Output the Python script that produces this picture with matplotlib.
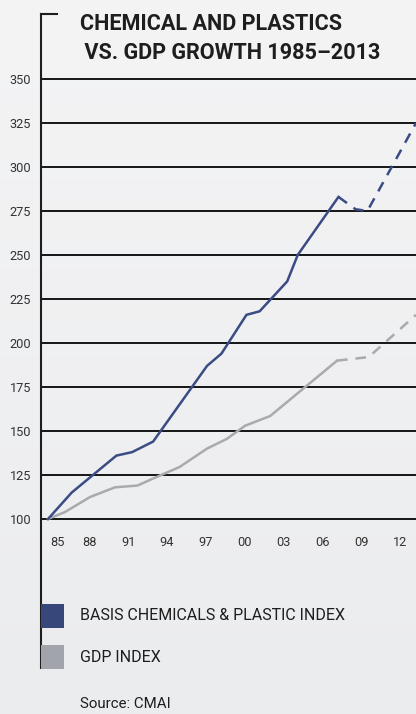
import numpy as np
import matplotlib
matplotlib.use("Agg")
import matplotlib.pyplot as plt
from matplotlib.patches import Rectangle
from matplotlib.lines import Line2D

# Basic chemicals & plastics index (1985 = 100): history and projection
chem_years = [1985, 1986.8, 1990.2, 1991.4, 1993.0, 1997.1, 1998.2, 2000.1, 2001.1, 2003.2, 2004.0, 2007.1]
chem_values = [100, 115, 136, 138, 144, 187, 194, 216, 218, 235, 250, 283]
chem_proj_years = [2007.1, 2008.4, 2009.3, 2013.0]
chem_proj_values = [283, 276, 275, 325]

# GDP index (1985 = 100): history and projection
gdp_years = [1985, 1986.3, 1988.2, 1990.1, 1991.8, 1993.3, 1995.0, 1997.1, 1998.6, 2000.0, 2001.9, 2003.6, 2007.0]
gdp_values = [100, 104, 112.5, 118, 119, 124, 129.5, 140, 145.5, 153, 158.5, 169, 190]
gdp_proj_years = [2007.0, 2009.4, 2013.0]
gdp_proj_values = [190, 192, 216]

y_ticks = [100, 125, 150, 175, 200, 225, 250, 275, 300, 325, 350]
x_tick_years = [1985, 1988, 1991, 1994, 1997, 2000, 2003, 2006, 2009, 2012]
x_tick_labels = ["85", "88", "91", "94", "97", "00", "03", "06", "09", "12"]

series_names = ["BASIS CHEMICALS & PLASTIC INDEX", "GDP INDEX"]
title_lines = ["CHEMICAL AND PLASTICS", " VS. GDP GROWTH 1985\u20132013"]
source_text = "Source: CMAI"

BLUE = "#3b4c85"
GRAY = "#a9aaae"
LEG_BLUE = "#37477a"
LEG_GRAY = "#a1a4ab"
INK = "#1e1e1e"
FONT = ["Roboto", "DejaVu Sans"]

W, H = 416, 714
fig = plt.figure(figsize=(W / 100, H / 100), dpi=100)

# soft vertical background gradient
top_c = np.array([0xf4, 0xf4, 0xf5]) / 255
bot_c = np.array([0xeb, 0xec, 0xee]) / 255
t = np.linspace(0, 1, H)[:, None, None]
grad = top_c * (1 - t) + bot_c * t
grad = np.repeat(grad, W, axis=1)
fig.figimage(grad, 0, 0, zorder=-10, origin="upper")


def fx(px):
    return px / W


def fy(py):
    return 1 - py / H


# plot area: left rule runs from the title bracket down past the legend
ax_left, ax_right, ax_top, ax_bot = 41, 416, 14, 668
ax = fig.add_axes([fx(ax_left), fy(ax_bot), fx(ax_right - ax_left), (ax_bot - ax_top) / H])
ax.patch.set_visible(False)

px_per_year = 13.14
px_per_unit = 44 / 25
ax.set_xlim(1985 - 7 / px_per_year, 2013.0)
ax.set_ylim(100 - (ax_bot - 519) / px_per_unit, 100 + (519 - ax_top) / px_per_unit)

for s in ["top", "right"]:
    ax.spines[s].set_visible(False)
ax.spines["left"].set_linewidth(1.5)
ax.spines["left"].set_color(INK)
ax.spines["bottom"].set_position(("data", 100))
ax.spines["bottom"].set_visible(False)

ax.set_yticks(y_ticks)
ax.set_yticklabels([str(v) for v in y_ticks], fontfamily=FONT, fontsize=9.2, color="#333333")
ax.tick_params(axis="y", length=0, pad=7)
ax.yaxis.grid(True, color="#151515", linewidth=1.4)
ax.set_axisbelow(True)

# year labels sit a little below the 100 line, slightly tighter than the year spacing
ax.set_xticks([])
for i, (yr, lab) in enumerate(zip(x_tick_years, x_tick_labels)):
    dx = 9 if i == 0 else 2 - 0.2 * (yr - 1988)
    ax.annotate(lab, xy=(yr, 100), xytext=(dx, -24), textcoords="offset pixels",
                ha="center", va="center", fontfamily=FONT, fontsize=9.2, color="#333333")

lw = 1.8
ax.plot(chem_years, chem_values, color=BLUE, lw=lw, solid_joinstyle="miter", zorder=3)
ax.plot(chem_proj_years, chem_proj_values, color=BLUE, lw=lw, dashes=(4.2, 3.2), zorder=3)
ax.plot(gdp_years, gdp_values, color=GRAY, lw=lw, solid_joinstyle="miter", zorder=2)
ax.plot(gdp_proj_years, gdp_proj_values, color=GRAY, lw=lw, dashes=(4.2, 3.2), zorder=2)

# bracket at the top of the left rule
fig.add_artist(Line2D([fx(41), fx(57)], [fy(14), fy(14)], color=INK, lw=1.5,
                      transform=fig.transFigure))

# title
fig.text(fx(80), fy(30), title_lines[0], fontfamily=FONT, fontweight="bold",
         fontsize=15.6, color=INK, va="baseline", ha="left")
fig.text(fx(79), fy(59), title_lines[1], fontfamily=FONT, fontweight="bold",
         fontsize=15.6, color=INK, va="baseline", ha="left")

# legend
for (y0, y1), col, name in zip([(604, 628), (645, 669)], [LEG_BLUE, LEG_GRAY], series_names):
    fig.add_artist(Rectangle((fx(41), fy(y1)), fx(64 - 41), (y1 - y0) / H,
                             transform=fig.transFigure, facecolor=col, edgecolor="none"))
    fig.text(fx(80), fy((y0 + y1) / 2), name, fontfamily=FONT, fontsize=11.5,
             color=INK, va="center", ha="left")

fig.text(fx(80), fy(704), source_text, fontfamily=FONT, fontsize=10.8,
         color=INK, va="center", ha="left")

fig.savefig("out.png", dpi=100)
